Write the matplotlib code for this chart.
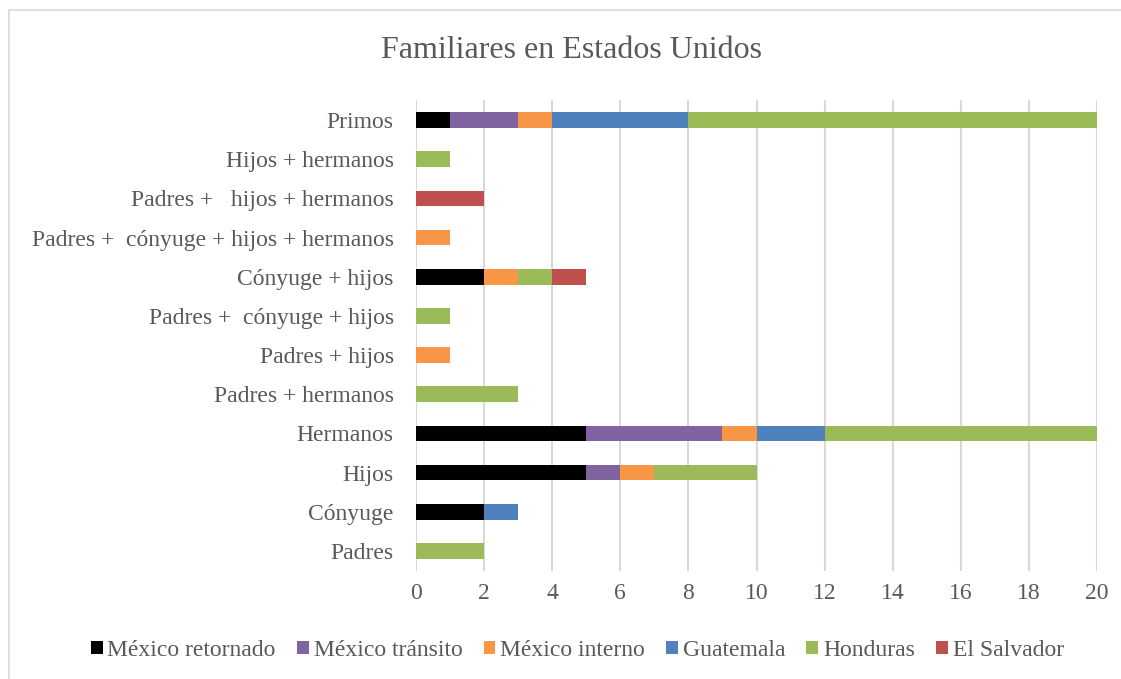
import matplotlib.pyplot as plt
from matplotlib.patches import Rectangle

plt.rcParams['font.family'] = ['Liberation Serif', 'DejaVu Serif']

categories = ['Padres', 'Cónyuge', 'Hijos', 'Hermanos', 'Padres + hermanos',
              'Padres + hijos', 'Padres +  cónyuge + hijos', 'Cónyuge + hijos',
              'Padres +  cónyuge + hijos + hermanos', 'Padres +   hijos + hermanos',
              'Hijos + hermanos', 'Primos']

mexico_retornado = [0, 2, 5, 5, 0, 0, 0, 2, 0, 0, 0, 1]
mexico_transito = [0, 0, 1, 4, 0, 0, 0, 0, 0, 0, 0, 2]
mexico_interno = [0, 0, 1, 1, 0, 1, 0, 1, 1, 0, 0, 1]
guatemala = [0, 1, 0, 2, 0, 0, 0, 0, 0, 0, 0, 4]
honduras = [2, 0, 3, 8, 3, 0, 1, 1, 0, 0, 1, 12]
el_salvador = [0, 0, 0, 0, 0, 0, 0, 1, 0, 2, 0, 0]

series = [('México retornado', mexico_retornado, '#000000'),
          ('México tránsito', mexico_transito, '#8064a2'),
          ('México interno', mexico_interno, '#f79646'),
          ('Guatemala', guatemala, '#4f81bd'),
          ('Honduras', honduras, '#9bbb59'),
          ('El Salvador', el_salvador, '#c0504d')]

fig = plt.figure(figsize=(11.21, 6.79), dpi=100)
ax = fig.add_axes([0.3711, 0.1597, 0.6075, 0.6924])

# light frame around the chart area
fig.patches.append(Rectangle((9 / 1121, -0.1), 1.2, 1 - 10 / 679 + 0.1,
                             transform=fig.transFigure, fill=False,
                             edgecolor='#d9d9d9', linewidth=1.2))

y = list(range(len(categories)))
left = [0] * len(categories)
for name, vals, color in series:
    ax.barh(y, vals, left=left, height=0.4, color=color, label=name, zorder=3)
    left = [a + b for a, b in zip(left, vals)]

ax.set_xlim(0, 20)
ax.set_ylim(-0.5, len(categories) - 0.5)
ax.set_xticks(range(0, 21, 2))
ax.set_yticks(y)
ax.set_yticklabels(categories)
ax.tick_params(length=0, labelsize=17, colors='#595959')
ax.tick_params(axis='x', pad=9)
ax.tick_params(axis='y', pad=16)
ax.grid(axis='x', color='#d9d9d9', linewidth=1.5, zorder=0)
for s in ax.spines.values():
    s.set_visible(False)

fig.text(0.51, 0.926, 'Familiares en Estados Unidos', ha='center', va='center',
         fontsize=23, color='#595959')

fig.legend(loc='center', bbox_to_anchor=(0.515, 0.042), ncol=6, frameon=False,
           fontsize=17, labelcolor='#595959', handlelength=0.5, handleheight=0.5,
           handletextpad=0.2, columnspacing=0.9)

fig.savefig('out.png', dpi=100)
